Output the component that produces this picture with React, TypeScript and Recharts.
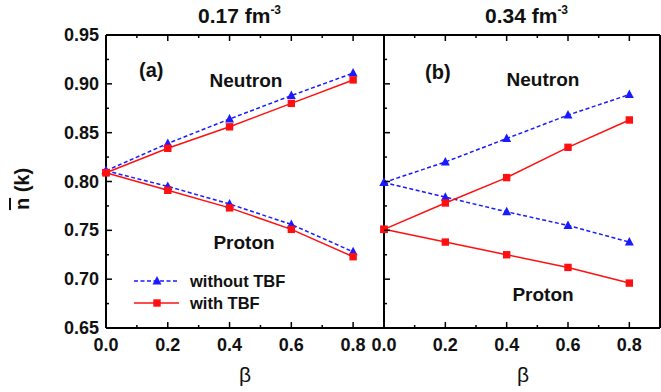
import React from 'react'
import { LineChart, Line, XAxis, YAxis } from 'recharts'

const betas = [0, 0.2, 0.4, 0.6, 0.8]

// panel (a) 0.17 fm^-3
const aNeutronNoTBF = [0.811, 0.839, 0.864, 0.888, 0.911]
const aNeutronTBF = [0.809, 0.834, 0.856, 0.880, 0.904]
const aProtonNoTBF = [0.811, 0.795, 0.777, 0.756, 0.728]
const aProtonTBF = [0.809, 0.791, 0.773, 0.751, 0.723]

// panel (b) 0.34 fm^-3
const bNeutronNoTBF = [0.799, 0.820, 0.844, 0.868, 0.889]
const bNeutronTBF = [0.751, 0.778, 0.804, 0.835, 0.863]
const bProtonNoTBF = [0.799, 0.784, 0.769, 0.755, 0.738]
const bProtonTBF = [0.751, 0.738, 0.725, 0.712, 0.696]

const xTicks = [0, 0.1, 0.2, 0.3, 0.4, 0.5, 0.6, 0.7, 0.8]
const xLabels = ['0.0', '', '0.2', '', '0.4', '', '0.6', '', '0.8']
const yTicks = [0.65, 0.675, 0.7, 0.725, 0.75, 0.775, 0.8, 0.825, 0.85, 0.875, 0.9, 0.925, 0.95]
const yLabels = ['0.65', '', '0.70', '', '0.75', '', '0.80', '', '0.85', '', '0.90', '', '0.95']

const W = 661
const H = 392
const SPLIT = 384
const FONT = '"Liberation Sans", Arial, sans-serif'
const BLUE = '#1a1aff'
const RED = '#ff1010'

const rows = (nNo: number[], nT: number[], pNo: number[], pT: number[]) =>
  betas.map((b, i) => ({ beta: b, nNo: nNo[i], nT: nT[i], pNo: pNo[i], pT: pT[i] }))

const dataA = rows(aNeutronNoTBF, aNeutronTBF, aProtonNoTBF, aProtonTBF)
const dataB = rows(bNeutronNoTBF, bNeutronTBF, bProtonNoTBF, bProtonTBF)

const Tri = (p: any) => {
  const { cx, cy } = p
  if (cx == null || cy == null) return <g key={p.key} />
  return <polygon key={p.key ?? `t${p.index}`} points={`${cx},${cy - 5} ${cx - 4.5},${cy + 3.5} ${cx + 4.5},${cy + 3.5}`} fill={BLUE} />
}
const Sq = (p: any) => {
  const { cx, cy } = p
  if (cx == null || cy == null) return <g key={p.key} />
  return <rect key={p.key ?? `s${p.index}`} x={cx - 3.7} y={cy - 3.7} width={7.4} height={7.4} fill={RED} />
}

const yTick = (side: 'left' | 'right', labels: boolean) => (p: any) => {
  const i = p.index
  const major = yLabels[i] !== ''
  const len = major ? 6 : 3
  const dir = side === 'left' ? 1 : -1
  return (
    <g>
      <line x1={p.x} y1={p.y} x2={p.x + dir * len} y2={p.y} stroke="#000" strokeWidth={1.5} />
      {labels && major && (
        <text x={p.x - 7} y={p.y + 6} textAnchor="end" fontFamily={FONT} fontWeight="bold" fontSize={18} fill="#111">
          {yLabels[i]}
        </text>
      )}
    </g>
  )
}

const xTick = (side: 'top' | 'bottom') => (p: any) => {
  const i = p.index
  const major = xLabels[i] !== ''
  const len = major ? 6 : 3
  const dir = side === 'bottom' ? -1 : 1
  return (
    <g>
      <line x1={p.x} y1={p.y} x2={p.x} y2={p.y + dir * len} stroke="#000" strokeWidth={1.5} />
      {side === 'bottom' && major && (
        <text x={p.x} y={p.y + 23} textAnchor="middle" fontFamily={FONT} fontWeight="bold" fontSize={18} fill="#111">
          {xLabels[i]}
        </text>
      )}
    </g>
  )
}

function Panel({ data, left, right, labels }: { data: any[]; left: number; right: number; labels: boolean }) {
  return (
    <div style={{ position: 'absolute', left: 0, top: 0 }}>
      <LineChart width={W} height={H} data={data} margin={{ top: 34, right, bottom: 63, left }}>
        <XAxis xAxisId="b" dataKey="beta" type="number" domain={[0, 0.9]} ticks={xTicks} interval={0}
          height={1} tickSize={0} tickMargin={0} tick={xTick('bottom')}
          axisLine={{ stroke: '#000', strokeWidth: 2 }} />
        <XAxis xAxisId="t" orientation="top" dataKey="beta" type="number" domain={[0, 0.9]} ticks={xTicks} interval={0}
          height={1} tickSize={0} tickMargin={0} tick={xTick('top')}
          axisLine={{ stroke: '#000', strokeWidth: 2 }} />
        <YAxis yAxisId="l" type="number" domain={[0.65, 0.95]} ticks={yTicks} interval={0}
          width={1} tickSize={0} tickMargin={0} tick={yTick('left', labels)}
          axisLine={{ stroke: '#000', strokeWidth: 2 }} />
        <YAxis yAxisId="r" orientation="right" type="number" domain={[0.65, 0.95]} ticks={yTicks} interval={0}
          width={1} tickSize={0} tickMargin={0} tick={yTick('right', false)}
          axisLine={{ stroke: '#000', strokeWidth: 2 }} />
        <Line xAxisId="b" yAxisId="l" dataKey="nNo" stroke={BLUE} strokeWidth={1.5} strokeDasharray="4 2.5" dot={Tri} activeDot={false} isAnimationActive={false} />
        <Line xAxisId="b" yAxisId="l" dataKey="pNo" stroke={BLUE} strokeWidth={1.5} strokeDasharray="4 2.5" dot={Tri} activeDot={false} isAnimationActive={false} />
        <Line xAxisId="b" yAxisId="l" dataKey="nT" stroke={RED} strokeWidth={1.5} dot={Sq} activeDot={false} isAnimationActive={false} />
        <Line xAxisId="b" yAxisId="l" dataKey="pT" stroke={RED} strokeWidth={1.5} dot={Sq} activeDot={false} isAnimationActive={false} />
      </LineChart>
    </div>
  )
}

export default function App() {
  const bold = { fontFamily: FONT, fontWeight: 'bold' as const, fill: '#111' }
  return (
    <div style={{ position: 'absolute', left: 0, top: 0, width: W, height: H, background: '#fff' }}>
      <Panel data={dataA} left={105} right={W - SPLIT - 1} labels />
      <Panel data={dataB} left={SPLIT - 1} right={0} labels={false} />
      <svg width={W} height={H} style={{ position: 'absolute', left: 0, top: 0, pointerEvents: 'none' }}>
        <text x={198} y={23} {...bold} fontSize={21}>0.17 fm<tspan dy={-9} fontSize={12}>-3</tspan></text>
        <text x={485} y={23} {...bold} fontSize={21}>0.34 fm<tspan dy={-9} fontSize={12}>-3</tspan></text>
        <text x={139} y={77} {...bold} fontSize={20}>(a)</text>
        <text x={425} y={79} {...bold} fontSize={20}>(b)</text>
        <text x={246} y={87} {...bold} fontSize={19} textAnchor="middle">Neutron</text>
        <text x={244} y={249} {...bold} fontSize={19} textAnchor="middle">Proton</text>
        <text x={543} y={86} {...bold} fontSize={19} textAnchor="middle">Neutron</text>
        <text x={543} y={301} {...bold} fontSize={19} textAnchor="middle">Proton</text>
        <text x={245} y={382} fontFamily={FONT} fontSize={21} fill="#111" textAnchor="middle">β</text>
        <text x={523} y={382} fontFamily={FONT} fontSize={21} fill="#111" textAnchor="middle">β</text>
        <text transform="translate(29,189) rotate(-90)" {...bold} fontSize={20} textAnchor="middle">
          <tspan textDecoration="overline">n</tspan> (k)
        </text>
        <line x1={134} y1={281} x2={179} y2={281} stroke={BLUE} strokeWidth={1.5} strokeDasharray="4 2.5" />
        <Tri cx={157} cy={281} index={0} />
        <text x={190} y={287} {...bold} fontSize={16.5}>without TBF</text>
        <line x1={134} y1={303} x2={179} y2={303} stroke={RED} strokeWidth={1.5} />
        <Sq cx={157} cy={303} index={0} />
        <text x={190} y={309} {...bold} fontSize={16.5}>with TBF</text>
      </svg>
    </div>
  )
}
